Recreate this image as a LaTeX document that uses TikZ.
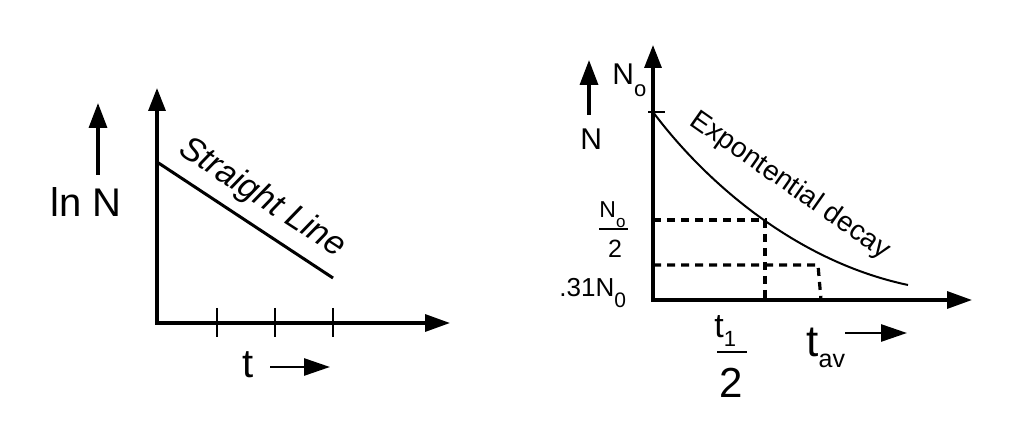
\documentclass[tikz,border=0pt]{standalone}
\usepackage{fontspec}
\setmainfont{Liberation Sans}
\usetikzlibrary{arrows.meta}

\begin{document}
\begin{tikzpicture}[
  x = 0.5pt, y = -0.5pt,
  axis_line/.style={line width=1.65pt, line join=miter,
    {Triangle[length=11.5pt, width=8.5pt]}-{Triangle[length=12.5pt, width=8.5pt]}},
  up_arrow/.style={line width=1.7pt, -{Triangle[length=12.5pt, width=9pt]}},
  right_arrow/.style={line width=1.35pt, -{Triangle[length=13pt, width=8.5pt]}},
  tick_line/.style={line width=1pt},
  frac_bar/.style={line width=1pt},
  dash_line/.style={line width=1.6pt, dash pattern=on 4pt off 3pt},
  label/.style={inner sep=0pt, text=black}
  ]
\useasboundingbox (0,0) rectangle (1036,426);

% left graph
\coordinate (origin_a) at (157,323);
\coordinate (y_end_a) at (157,88);
\coordinate (x_end_a) at (450,323);
\coordinate (line_start) at (157,162);
\coordinate (line_end) at (333,278);

\draw [axis_line] (y_end_a) -- (origin_a) -- (x_end_a);
\draw [line width=1.5pt] (line_start) -- (line_end);
\foreach \x in {217,275,333}
  \draw [tick_line] (\x,308) -- (\x,337);

\node [label, font=\fontsize{17pt}{20pt}\selectfont\itshape, rotate=-33] (line_label) at (262,198) {Straight Line};

\node [label, anchor=base west, font=\fontsize{20pt}{24pt}\selectfont] (ln_n) at (50,217) {ln N};
\coordinate (ln_arrow_start) at (98,175);
\coordinate (ln_arrow_end) at (98,103);
\draw [up_arrow] (ln_arrow_start) -- (ln_arrow_end);

\node [label, anchor=base west, font=\fontsize{20pt}{24pt}\selectfont] (t_a) at (242,378) {t};
\coordinate (t_arrow_start) at (270,367);
\coordinate (t_arrow_end) at (330,367);
\draw [right_arrow] (t_arrow_start) -- (t_arrow_end);

% right graph
\coordinate (origin_b) at (653,300);
\coordinate (y_end_b) at (653,45);
\coordinate (x_end_b) at (972,300);
\coordinate (n_zero) at (653,112);
\coordinate (curve_end) at (908,285);
\coordinate (half_left) at (653,220);
\coordinate (half_point) at (765,220);
\coordinate (half_foot) at (765,300);
\coordinate (avg_left) at (653,265);
\coordinate (avg_point) at (818,265);
\coordinate (avg_foot) at (821,300);

\draw [axis_line] (y_end_b) -- (origin_b) -- (x_end_b);
\draw [tick_line] ([xshift=-2.5pt]n_zero) -- ([xshift=6pt]n_zero);
\draw [line width=1pt] (n_zero) .. controls (700,175) and (790,260) .. (curve_end);
\draw [dash_line] (half_left) -- (half_point) -- (half_foot);
\draw [dash_line] (avg_left) -- (avg_point) -- (avg_foot);

\node [label, font=\fontsize{14pt}{17pt}\selectfont, rotate=-35] (decay_label) at (790,186) {Expontential decay};

\node [label, anchor=base west, font=\fontsize{15pt}{18pt}\selectfont] (n_b) at (580,150) {N};
\coordinate (n_arrow_start) at (589,115);
\coordinate (n_arrow_end) at (589,60);
\draw [up_arrow] (n_arrow_start) -- (n_arrow_end);

\node [label, anchor=base west, font=\fontsize{15pt}{18pt}\selectfont] (n_top) at (612,85)
  {N\raisebox{-6pt}{\fontsize{11pt}{13pt}\selectfont o}};

% N_o / 2
\node [label, anchor=base west, font=\fontsize{11.5pt}{14pt}\selectfont] (half_num) at (599,218)
  {N\raisebox{-5pt}{\fontsize{8.5pt}{10pt}\selectfont o}};
\node [label, anchor=base, font=\fontsize{12.5pt}{15pt}\selectfont] (half_den) at (615,258) {2};
\coordinate (half_bar_l) at (599,229);
\coordinate (half_bar_r) at (628,229);
\draw [frac_bar] (half_bar_l) -- (half_bar_r);

\node [label, anchor=base west, font=\fontsize{13pt}{16pt}\selectfont] (n_avg) at (559,297)
  {.31N\raisebox{-5.5pt}{\fontsize{10.5pt}{12pt}\selectfont 0}};

% t_1 / 2
\node [label, anchor=base west, font=\fontsize{17pt}{20pt}\selectfont] (thalf_num) at (714,337)
  {t\raisebox{-5pt}{\fontsize{11pt}{13pt}\selectfont 1}};
\node [label, anchor=base, font=\fontsize{21pt}{25pt}\selectfont] (thalf_den) at (731,397) {2};
\coordinate (thalf_bar_l) at (717,352);
\coordinate (thalf_bar_r) at (747,352);
\draw [frac_bar] (thalf_bar_l) -- (thalf_bar_r);

\node [label, anchor=base west, font=\fontsize{22pt}{26pt}\selectfont] (t_avg) at (806,357)
  {t\raisebox{-5.5pt}{\fontsize{12.5pt}{15pt}\selectfont av}};
\coordinate (tav_arrow_start) at (845,333);
\coordinate (tav_arrow_end) at (907,333);
\draw [right_arrow] (tav_arrow_start) -- (tav_arrow_end);
\end{tikzpicture}
\end{document}
